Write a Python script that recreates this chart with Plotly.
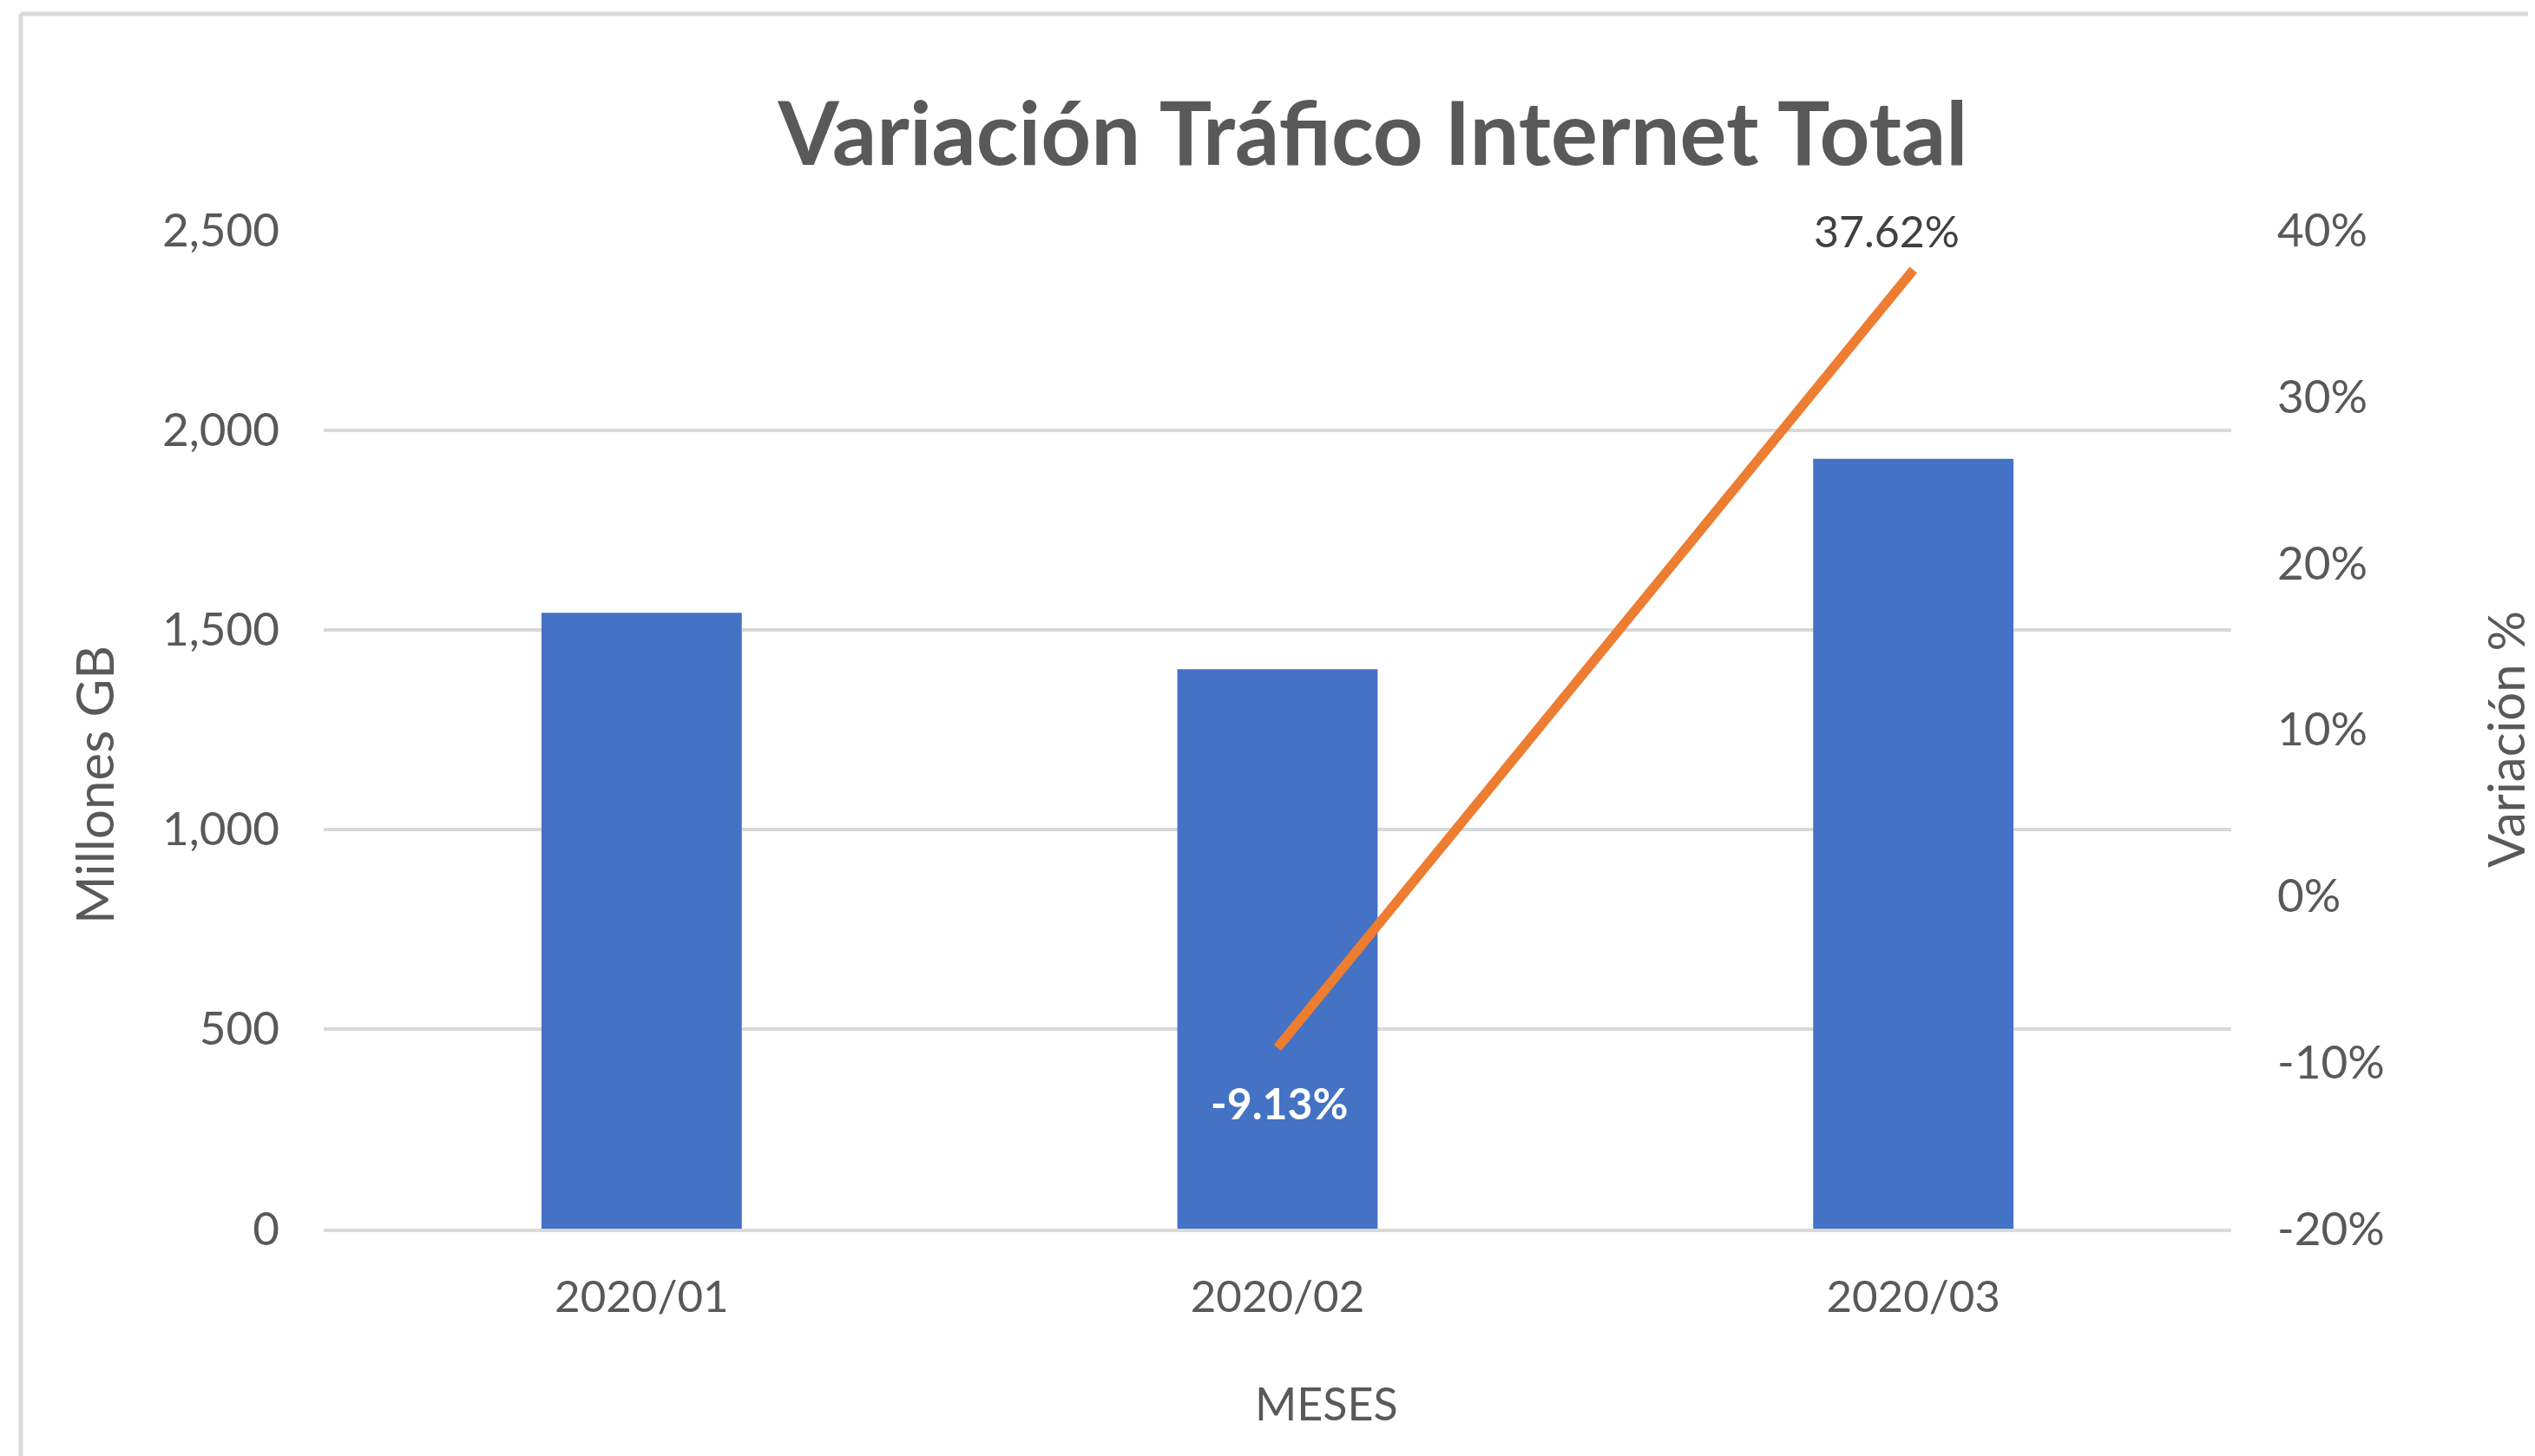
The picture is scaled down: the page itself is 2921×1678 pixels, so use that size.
import plotly.graph_objects as go

# ---- data ----
months = ["2020/01", "2020/02", "2020/03"]
traffic_gb_millions = [1542, 1401, 1928]
variation_pct = [None, -9.13, 37.62]

gb_ticks = [0, 500, 1000, 1500, 2000, 2500]
pct_ticks = [-20, -10, 0, 10, 20, 30, 40]
pct_tick_labels = ["-20%", "-10%", "0%", "10%", "20%", "30%", "40%"]

chart_title = "Variación Tráfico Internet Total"
y_title = "Millones GB"
y2_title = "Variación %"
x_title = "MESES"

# ---- style / geometry ----
W, H = 2921, 1678
OFF = 8  # page body margin offset
L, T = 373 - OFF, 265 - OFF
R = W - (2571 - OFF)
B = H - (1416 - OFF)
PW, PH = W - L - R, H - T - B
FONT = "Lato, Carlito, Calibri, sans-serif"
GRAY = "#595959"
GRID = "#d9d9d9"
BAR = "#4472C4"
LINE = "#ED7D31"


def px_x(px):
    return (px - OFF - L) / PW


def px_y(py):
    return 1 - (py - OFF - T) / PH


fig = go.Figure()
fig.add_trace(go.Bar(x=months, y=traffic_gb_millions, marker_color=BAR,
                     marker_line_width=0, name="Millones GB"))
fig.add_trace(go.Scatter(x=months, y=variation_pct, yaxis="y2", mode="lines",
                         line=dict(color=LINE, width=11), name="Variación %",
                         connectgaps=False))

annotations = []
for m, v in zip(months, variation_pct):
    if v is None:
        continue
    if v < 0:
        annotations.append(dict(x=m, y=v, xref="x", yref="y2",
                                text=f"<b>{v:.2f}%</b>", showarrow=False,
                                yshift=-63, xshift=2,
                                font=dict(family=FONT, size=50, color="white")))
    else:
        annotations.append(dict(x=m, y=v, xref="x", yref="y2",
                                text=f"{v:.2f}%", showarrow=False,
                                yshift=45, xshift=-31,
                                font=dict(family=FONT, size=50, color="#404040")))

annotations.append(dict(x=px_x(108), y=px_y(905), xref="paper", yref="paper",
                        text=y_title, textangle=-90, showarrow=False,
                        xanchor="center", yanchor="middle",
                        font=dict(family=FONT, size=60, color=GRAY)))
annotations.append(dict(x=px_x(2886), y=px_y(852), xref="paper", yref="paper",
                        text=y2_title, textangle=-90, showarrow=False,
                        xanchor="center", yanchor="middle",
                        font=dict(family=FONT, size=58, color=GRAY)))
annotations.append(dict(x=px_x(1528), y=px_y(1617), xref="paper", yref="paper",
                        text=x_title, showarrow=False,
                        xanchor="center", yanchor="middle",
                        font=dict(family=FONT, size=52, color=GRAY)))

shapes = [
    dict(type="line", xref="paper", yref="paper",
         x0=px_x(24), x1=px_x(W + 20), y0=px_y(16), y1=px_y(16),
         line=dict(color=GRID, width=5)),
    dict(type="line", xref="paper", yref="paper",
         x0=px_x(24), x1=px_x(24), y0=px_y(16), y1=px_y(H + 20),
         line=dict(color=GRID, width=5)),
]

fig.update_layout(
    width=W, height=H, autosize=False,
    margin=dict(l=L, r=R, t=T, b=B, pad=0),
    paper_bgcolor="white", plot_bgcolor="white",
    showlegend=False,
    bargap=0.685,
    title=dict(text=f"<b>{chart_title}</b>", xref="container", yref="container",
               x=(1582 - OFF) / W, y=1 - (155 - OFF) / H, xanchor="center",
               yanchor="middle",
               font=dict(family=FONT, size=101, color=GRAY)),
    font=dict(family=FONT, color=GRAY),
    xaxis=dict(type="category", showgrid=False, showline=True, linecolor=GRID,
               linewidth=4, ticks="", tickfont=dict(family=FONT, size=51, color=GRAY),
               ticklabelstandoff=31, zeroline=False),
    yaxis=dict(range=[0, 2501], tickvals=gb_ticks, tickformat=",", showgrid=True,
               gridcolor=GRID, gridwidth=3.5, zeroline=False, showline=False,
               ticks="", tickfont=dict(family=FONT, size=53, color=GRAY),
               ticklabelstandoff=50),
    yaxis2=dict(range=[-20, 40.024], tickvals=pct_ticks, ticktext=pct_tick_labels,
                overlaying="y", side="right", showgrid=False, zeroline=False,
                showline=False, ticks="",
                tickfont=dict(family=FONT, size=53, color=GRAY),
                ticklabelstandoff=52),
    annotations=annotations,
    shapes=shapes,
)

fig.write_html("out.html")
